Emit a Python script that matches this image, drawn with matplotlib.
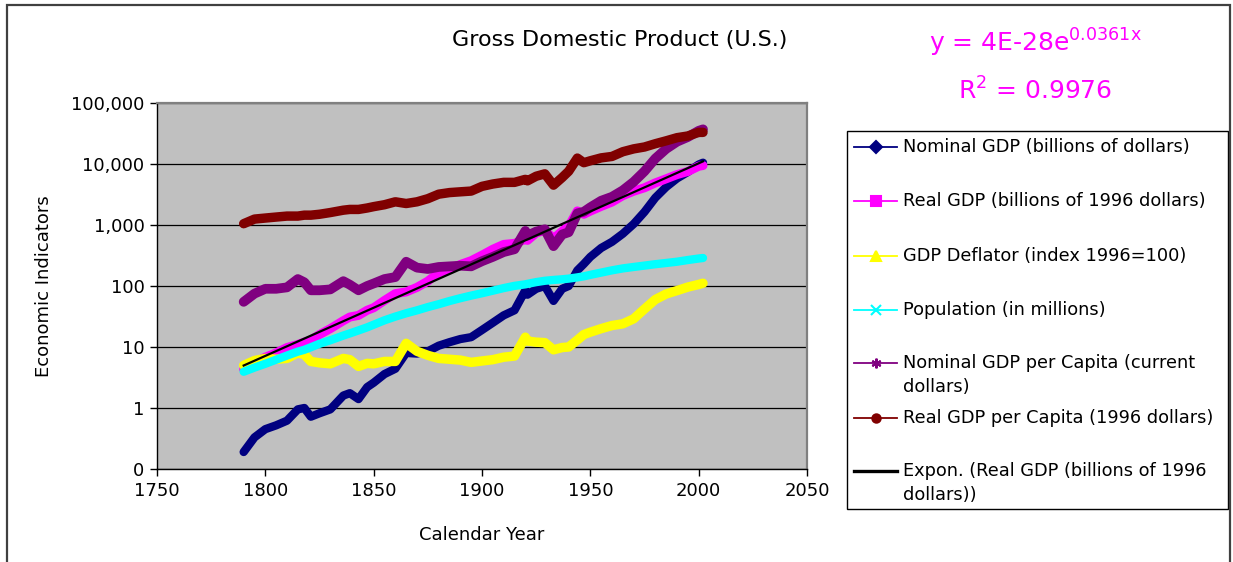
import matplotlib
matplotlib.use("Agg")
import matplotlib.pyplot as plt
import numpy as np
from matplotlib.lines import Line2D
from matplotlib.patches import Rectangle

plt.rcParams["font.family"] = ["DejaVu Sans"]
plt.rcParams["mathtext.default"] = "regular"

# ---- data ----
years = [1790, 1795, 1800, 1805, 1810, 1815, 1818, 1821, 1825, 1830,
         1836, 1839, 1843, 1847, 1850, 1855, 1860, 1865, 1870, 1875,
         1880, 1885, 1890, 1895, 1900, 1905, 1910, 1915, 1920, 1921,
         1925, 1929, 1933, 1937, 1940, 1944, 1947, 1950, 1955, 1960,
         1965, 1970, 1975, 1980, 1985, 1990, 1995, 2000, 2002]

nominal_gdp = [0.19, 0.33, 0.45, 0.52, 0.62, 0.95, 1.0, 0.72, 0.82, 0.95,
               1.6, 1.75, 1.4, 2.2, 2.6, 3.6, 4.4, 8.0, 7.8, 8.5,
               10.5, 12.0, 13.5, 14.5, 19.0, 25.0, 33.0, 40.0, 85.0, 72.0,
               90.0, 100.0, 57.0, 90.0, 100.0, 180.0, 230.0, 300.0, 420.0, 530.0,
               720.0, 1040.0, 1640.0, 2800.0, 4200.0, 5800.0, 7400.0, 9800.0, 10500.0]

real_gdp = [4.3, 5.5, 6.8, 8.0, 9.8, 11.0, 12.0, 13.0, 16.0, 20.0,
            27.0, 31.0, 33.0, 40.0, 44.0, 58.0, 75.0, 80.0, 95.0, 120.0,
            165.0, 190.0, 225.0, 260.0, 320.0, 400.0, 480.0, 500.0, 580.0, 560.0,
            740.0, 820.0, 600.0, 790.0, 950.0, 1700.0, 1500.0, 1690.0, 2020.0, 2380.0,
            3030.0, 3580.0, 4080.0, 4900.0, 5720.0, 6700.0, 7540.0, 9190.0, 9440.0]

gdp_deflator = [5.0, 6.0, 6.5, 6.3, 6.5, 8.0, 7.5, 5.8, 5.5, 5.3,
                6.5, 6.2, 4.8, 5.4, 5.3, 5.8, 5.8, 11.5, 8.5, 7.3,
                6.5, 6.3, 6.1, 5.6, 5.9, 6.2, 6.8, 7.1, 14.5, 12.5,
                12.0, 11.8, 9.0, 9.8, 10.0, 13.0, 16.0, 17.5, 20.0, 22.5,
                24.0, 29.0, 42.0, 60.0, 74.0, 84.0, 96.0, 106.0, 111.0]

population = [3.93, 4.6, 5.31, 6.2, 7.24, 8.4, 9.0, 9.9, 11.3, 12.9,
              15.4, 16.7, 18.7, 21.0, 23.2, 27.4, 31.5, 35.7, 39.9, 45.1,
              50.3, 56.7, 63.1, 69.6, 76.1, 83.8, 92.4, 100.5, 106.5, 108.5,
              115.8, 121.8, 125.6, 128.8, 132.1, 138.4, 144.1, 152.3, 165.9, 180.7,
              194.3, 205.1, 216.0, 227.7, 238.5, 250.1, 266.6, 282.2, 287.8]

nominal_pc = [55, 75, 90, 90, 95, 130, 115, 85, 85, 88,
              120, 105, 85, 100, 110, 130, 140, 250, 200, 190,
              205, 210, 215, 210, 255, 300, 360, 400, 800, 670,
              780, 850, 450, 700, 760, 1550, 1650, 1950, 2500, 2900,
              3700, 5100, 7600, 12300, 17700, 23200, 27700, 35000, 37000]

real_pc = [1050, 1250, 1300, 1350, 1400, 1400, 1450, 1450, 1500, 1600,
           1750, 1800, 1800, 1900, 2000, 2150, 2400, 2250, 2400, 2700,
           3200, 3400, 3500, 3600, 4300, 4700, 5000, 5000, 5600, 5300,
           6300, 6900, 4500, 6000, 7600, 12500, 10500, 11300, 12600, 13300,
           15900, 17700, 19000, 21500, 24000, 27000, 28800, 33000, 33000]

series_labels = ["Nominal GDP (billions of dollars)",
                 "Real GDP (billions of 1996 dollars)",
                 "GDP Deflator (index 1996=100)",
                 "Population (in millions)",
                 "Nominal GDP per Capita (current\ndollars)",
                 "Real GDP per Capita (1996 dollars)",
                 "Expon. (Real GDP (billions of 1996\ndollars))"]
series_colors = ["#000080", "#FF00FF", "#FFFF00", "#00FFFF",
                 "#800080", "#800000", "#000000"]
series_markers = ["D", "s", "^", "x", (6, 2, 0), "o", None]

y_ticks = [0.1, 1, 10, 100, 1000, 10000, 100000]
y_ticklabels = ["0", "1", "10", "100", "1,000", "10,000", "100,000"]
x_ticks = [1750, 1800, 1850, 1900, 1950, 2000, 2050]

W, H = 1233, 562


def fx(px):
    return px / W


def fy(py):
    return 1 - py / H


fig = plt.figure(figsize=(W / 100, H / 100), dpi=100)
ax = fig.add_axes([fx(157), fy(469), fx(807 - 157), (469 - 103) / H])
ax.set_facecolor("#C0C0C0")

all_series = [nominal_gdp, real_gdp, gdp_deflator, population, nominal_pc, real_pc]
widths = [6.0, 6.5, 6.8, 6.0, 7.0, 6.8]
for vals, col, lw in zip(all_series, series_colors, widths):
    ax.plot(years, vals, color=col, lw=lw, solid_capstyle="round",
            solid_joinstyle="round", zorder=3)

# exponential trend fitted to real GDP (like Excel's trendline)
b, ln_a = np.polyfit(years, np.log(real_gdp), 1)
yr = np.array(years, dtype=float)
ax.plot(yr, np.exp(ln_a + b * yr), color="black", lw=1.6, zorder=4)

ax.set_yscale("log")
ax.set_ylim(0.1, 100000)
ax.set_xlim(1750, 2050)
ax.set_yticks(y_ticks)
ax.set_yticklabels(y_ticklabels)
ax.yaxis.set_minor_locator(matplotlib.ticker.NullLocator())
ax.set_xticks(x_ticks)
ax.tick_params(axis="both", direction="out", length=5, width=1,
               labelsize=13, colors="black", pad=4)
ax.grid(axis="y", color="black", lw=0.9)
ax.set_axisbelow(True)
for side in ["top", "right"]:
    ax.spines[side].set_color("#808080")
    ax.spines[side].set_linewidth(1.6)
for side in ["left", "bottom"]:
    ax.spines[side].set_color("black")
    ax.spines[side].set_linewidth(1.0)

ax.set_xlabel("Calendar Year", fontsize=13, labelpad=19)
ax.set_ylabel("Economic Indicators", fontsize=13, labelpad=13)

fig.text(fx(620), fy(40), "Gross Domestic Product (U.S.)", fontsize=16,
         ha="center", va="center")

# trendline equation
fig.text(fx(1035), fy(52), r"y = 4E-28e$^{0.0361x}$", fontsize=18,
         color="#FF00FF", ha="center", va="baseline")
fig.text(fx(1035), fy(100), r"R$^{2}$ = 0.9976", fontsize=18,
         color="#FF00FF", ha="center", va="baseline")

# legend drawn by hand to match the Excel layout
fig.patches.append(Rectangle((fx(847), fy(509)), fx(1228 - 847), (509 - 131) / H,
                             transform=fig.transFigure, facecolor="white",
                             edgecolor="black", lw=1.0))
entry_y = [147, 200.5, 256, 310, 363, 418, 471]
for lab, col, mk, ey in zip(series_labels, series_colors, series_markers, entry_y):
    lw = 2.4 if mk is None else 1.3
    fig.lines.append(Line2D([fx(854), fx(897)], [fy(ey), fy(ey)],
                            transform=fig.transFigure, color=col, lw=lw))
    if mk is not None:
        ms = 6 if mk in ("D", "o") else 7
        fig.lines.append(Line2D([fx(875.5)], [fy(ey)], transform=fig.transFigure,
                                marker=mk, color=col, ms=ms, mew=1.5, ls="none"))
    for i, line in enumerate(lab.split("\n")):
        fig.text(fx(903), fy(ey + i * 24), line, fontsize=12.8,
                 ha="left", va="center")

# outer chart border
fig.patches.append(Rectangle((fx(7), -0.1), fx(1230 - 7), 1.1 - 5 / H,
                             transform=fig.transFigure, fill=False,
                             edgecolor="#404040", lw=1.6))

fig.savefig("out.png", dpi=100)
